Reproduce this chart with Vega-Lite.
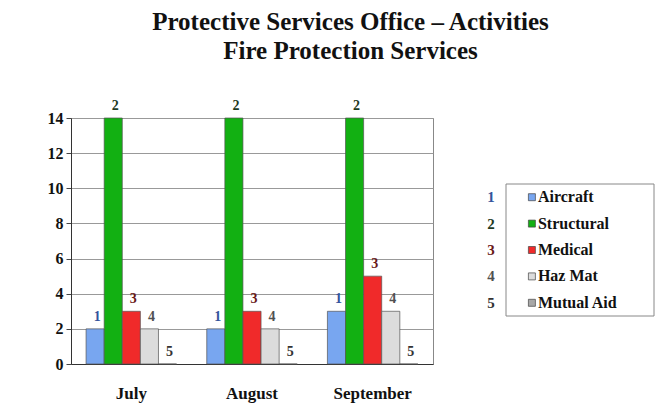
{
  "$schema": "https://vega.github.io/schema/vega-lite/v6.json",
  "background": "white",
  "padding": {"left": 46, "top": 9, "right": 5, "bottom": 5},
  "title": {
    "text": ["Protective Services Office – Activities", "Fire Protection Services"],
    "font": "Liberation Serif", "fontSize": 25, "fontWeight": "bold",
    "lineHeight": 29, "color": "#111", "anchor": "middle", "offset": 35
  },
  "datasets": {
    "bars": [
      {"month": "July", "series": "Aircraft", "num": "1", "value": 2},
      {"month": "July", "series": "Structural", "num": "2", "value": 14},
      {"month": "July", "series": "Medical", "num": "3", "value": 3},
      {"month": "July", "series": "Haz Mat", "num": "4", "value": 2},
      {"month": "July", "series": "Mutual Aid", "num": "5", "value": 0},
      {"month": "August", "series": "Aircraft", "num": "1", "value": 2},
      {"month": "August", "series": "Structural", "num": "2", "value": 14},
      {"month": "August", "series": "Medical", "num": "3", "value": 3},
      {"month": "August", "series": "Haz Mat", "num": "4", "value": 2},
      {"month": "August", "series": "Mutual Aid", "num": "5", "value": 0},
      {"month": "September", "series": "Aircraft", "num": "1", "value": 3},
      {"month": "September", "series": "Structural", "num": "2", "value": 14},
      {"month": "September", "series": "Medical", "num": "3", "value": 5},
      {"month": "September", "series": "Haz Mat", "num": "4", "value": 3},
      {"month": "September", "series": "Mutual Aid", "num": "5", "value": 0}
    ],
    "legend": [
      {"series": "Aircraft", "num": 1},
      {"series": "Structural", "num": 2},
      {"series": "Medical", "num": 3},
      {"series": "Haz Mat", "num": 4},
      {"series": "Mutual Aid", "num": 5}
    ]
  },
  "spacing": 73,
  "bounds": "flush",
  "hconcat": [
    {
      "width": 362,
      "height": 246,
      "data": {"name": "bars"},
      "encoding": {
        "x": {
          "field": "month", "type": "nominal", "sort": ["July", "August", "September"],
          "scale": {"paddingInner": 0.25, "paddingOuter": 0.125},
          "axis": {
            "title": null, "labelAngle": 0, "labelFont": "Liberation Serif", "labelFontSize": 17,
            "labelFontWeight": "bold", "labelColor": "#111", "ticks": false,
            "domainColor": "#333", "labelPadding": 21
          }
        },
        "xOffset": {
          "field": "series", "type": "nominal",
          "sort": ["Aircraft", "Structural", "Medical", "Haz Mat", "Mutual Aid"],
          "scale": {"paddingInner": 0, "paddingOuter": 0}
        },
        "y": {
          "field": "value", "type": "quantitative",
          "scale": {"domain": [0, 14]},
          "axis": {
            "title": null, "values": [0, 2, 4, 6, 8, 10, 12, 14],
            "labelFont": "Liberation Serif", "labelFontSize": 16, "labelFontWeight": "bold",
            "labelColor": "#111", "tickSize": 5, "labelPadding": 3,
            "gridColor": "#999", "domainColor": "#333", "tickColor": "#444"
          }
        }
      },
      "layer": [
        {
          "mark": {"type": "bar", "stroke": "#555", "strokeWidth": 0.7},
          "encoding": {
            "fill": {
              "field": "series", "type": "nominal",
              "scale": {
                "domain": ["Aircraft", "Structural", "Medical", "Haz Mat", "Mutual Aid"],
                "range": ["#78a6f0", "#12b012", "#f02a2a", "#dcdcdc", "#a8a8a8"]
              },
              "legend": null
            }
          }
        },
        {
          "mark": {
            "type": "text", "baseline": "bottom", "dy": -5, "dx": 2,
            "font": "Liberation Serif", "fontSize": 14, "fontWeight": "bold"
          },
          "encoding": {
            "text": {"field": "num"},
            "color": {
              "field": "series", "type": "nominal",
              "scale": {
                "domain": ["Aircraft", "Structural", "Medical", "Haz Mat", "Mutual Aid"],
                "range": ["#34549c", "#1f3a1f", "#6a1818", "#505050", "#333333"]
              },
              "legend": null
            }
          }
        }
      ]
    },
    {
      "width": 148,
      "height": 246,
      "view": {"stroke": null},
      "layer": [
        {
          "data": {"values": [{}]},
          "mark": {"type": "rect", "fill": null, "stroke": "#888", "strokeWidth": 1},
          "encoding": {
            "x": {"datum": 0, "type": "quantitative", "scale": {"domain": [0, 10], "nice": false, "zero": false}, "axis": null},
            "x2": {"datum": 10},
            "y": {"datum": 0.5, "type": "quantitative", "scale": {"domain": [-2, 7.318], "reverse": true, "nice": false, "zero": false}, "axis": null},
            "y2": {"datum": 5.5}
          }
        },
        {
          "data": {"name": "legend"},
          "mark": {"type": "square", "size": 49, "opacity": 1, "stroke": "#444", "strokeWidth": 0.7},
          "encoding": {
            "x": {"datum": 1.75, "type": "quantitative"},
            "y": {"field": "num", "type": "quantitative"},
            "fill": {
              "field": "series", "type": "nominal",
              "legend": null
            }
          }
        },
        {
          "data": {"name": "legend"},
          "mark": {
            "type": "text", "align": "left", "dx": 6,
            "font": "Liberation Serif", "fontSize": 16, "fontWeight": "bold", "color": "#111"
          },
          "encoding": {
            "x": {"datum": 1.75, "type": "quantitative"},
            "y": {"field": "num", "type": "quantitative"},
            "text": {"field": "series"}
          }
        },
        {
          "data": {"name": "legend"},
          "mark": {
            "type": "text", "align": "center", "dx": -15,
            "font": "Liberation Serif", "fontSize": 15, "fontWeight": "bold"
          },
          "encoding": {
            "x": {"datum": 0, "type": "quantitative"},
            "y": {"field": "num", "type": "quantitative"},
            "text": {"field": "num"},
            "color": {
              "field": "series", "type": "nominal",
              "legend": null
            }
          }
        }
      ]
    }
  ],
  "config": {
    "view": {"stroke": "#888", "strokeWidth": 1}
  }
}
